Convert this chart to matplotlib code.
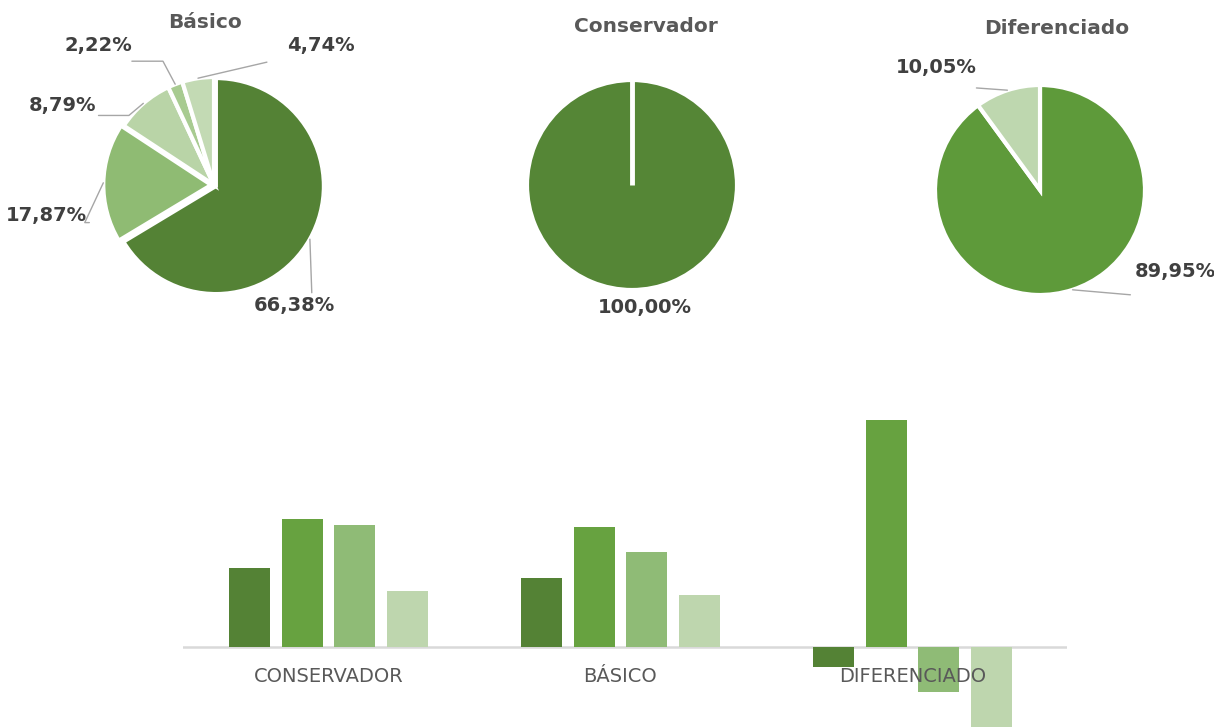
import numpy as np
import matplotlib
matplotlib.use("Agg")
import matplotlib.pyplot as plt

plt.rcParams['font.family'] = ['DejaVu Sans']

W, H = 1214, 727

# pies
pie_titles = ["Básico", "Conservador", "Diferenciado"]
basico_share = [66.38, 17.87, 8.79, 2.22, 4.74]
conservador_share = [100.00]
diferenciado_share = [89.95, 10.05]

# bars
categorias = ["CONSERVADOR", "BÁSICO", "DIFERENCIADO"]
serie_1 = [7.9, 6.9, -2.0]
serie_2 = [12.8, 12.0, 22.7]
serie_3 = [12.2, 9.5, -4.5]
serie_4 = [5.6, 5.2, -9.0]

basico_colors = ["#548235", "#8FBB73", "#B9D4A7", "#A8CB91", "#C3DAB4"]
conservador_colors = ["#558636"]
diferenciado_colors = ["#5E9A3A", "#BED7AF"]
bar_colors = ["#548235", "#67A240", "#8FBB76", "#BED6AE"]

label_color = "#404040"
title_color = "#595959"
line_color = "#A6A6A6"


def fmt(v):
    return f"{v:.2f}%".replace(".", ",")


def px_axes(fig, x0, y0, x1, y1):
    return fig.add_axes([x0 / W, 1 - y1 / H, (x1 - x0) / W, (y1 - y0) / H])


def draw_pie(fig, center, r, values, colors, title, title_pos, labels, explode=None, lw=3):
    cx, cy = center
    ax = px_axes(fig, cx - r, cy - r, cx + r, cy + r)
    wedges, _ = ax.pie(values, colors=colors, startangle=90, counterclock=False,
                       explode=explode,
                       wedgeprops=dict(edgecolor="white", linewidth=lw))
    ax.set_xlim(-1, 1)
    ax.set_ylim(-1, 1)
    ax.axis("off")
    fig.text(title_pos[0] / W, 1 - title_pos[1] / H, title, ha="center", va="center",
             fontsize=14.5, fontweight="bold", color=title_color)
    for w, v, lab in zip(wedges, values, labels):
        pos, relpos, conn = lab
        mid = np.deg2rad((w.theta1 + w.theta2) / 2)
        ox, oy = w.center
        xy = (ox + w.r * np.cos(mid), oy + w.r * np.sin(mid))
        kw = dict(xy=xy, xytext=(pos[0], H - pos[1]), textcoords="figure pixels",
                  ha="center", va="center", fontsize=14, fontweight="bold",
                  color=label_color, annotation_clip=False)
        if conn is not None:
            kw["arrowprops"] = dict(arrowstyle="-", color=line_color, lw=1,
                                    shrinkA=0, shrinkB=0, relpos=relpos,
                                    connectionstyle=conn)
        ax.annotate(fmt(v), **kw)
    return ax, wedges


fig = plt.figure(figsize=(W / 100, H / 100), dpi=100)

basico_labels = [
    ((294, 305), (0.72, 1.0), "arc3"),
    ((46, 215), (1.08, 0.1), "angle,angleA=0,angleB=245"),
    ((62, 105), (1.02, -0.05), "angle,angleA=0,angleB=220"),
    ((98, 46), (1.0, -0.3), "angle,angleA=0,angleB=118"),
    ((321, 46), (-0.3, -0.35), "arc3"),
]
draw_pie(fig, (214, 185), 108, basico_share, basico_colors, pie_titles[0], (205, 22),
         basico_labels, explode=[0.02, 0.025, 0, 0, 0], lw=3)

ax_c, w_c = draw_pie(fig, (632, 185), 105, conservador_share, conservador_colors,
                     pie_titles[1], (646, 27), [((645, 307), None, None)], lw=3)
t1 = np.deg2rad(w_c[0].theta1)
ax_c.plot([0, np.cos(t1)], [0, np.sin(t1)], color="white", lw=3.5, solid_capstyle="butt")

diferenciado_labels = [
    ((1175, 272), (-0.05, -0.7), "arc3"),
    ((936, 68), (1.0, -0.55), "arc3"),
]
draw_pie(fig, (1040, 190), 105, diferenciado_share, diferenciado_colors, pie_titles[2],
         (1057, 28), diferenciado_labels, lw=3)

# bar chart
axb = px_axes(fig, 183, 400, 1067, 727)
x = np.arange(len(categorias))
step = 0.180
width = 0.140
series = [serie_1, serie_2, serie_3, serie_4]
for i, (vals, col) in enumerate(zip(series, bar_colors)):
    axb.bar(x + (i - 1.5) * step, vals, width=width, color=col, zorder=2)
axb.axhline(0, color="#D9D9D9", lw=1.8, zorder=1)
axb.set_xlim(-0.498, 2.529)
axb.set_ylim(-8.0, 24.7)
for xi, cat in zip(x, categorias):
    axb.text(xi, -2.9, cat, ha="center", va="center", fontsize=14, color=title_color, zorder=5)
axb.axis("off")

fig.savefig("out.png", dpi=100, facecolor="white")
